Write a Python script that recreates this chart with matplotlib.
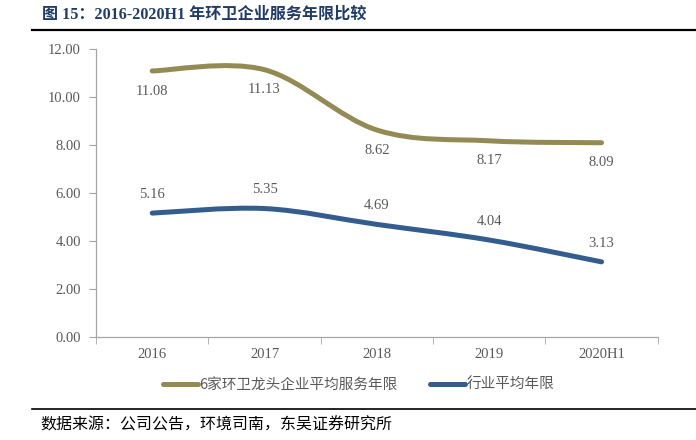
import matplotlib
matplotlib.use('Agg')
import matplotlib.pyplot as plt
from matplotlib.path import Path
from matplotlib.patches import PathPatch
from matplotlib.lines import Line2D

years = ['2016', '2017', '2018', '2019', '2020H1']
top6 = [11.08, 11.13, 8.62, 8.17, 8.09]
industry = [5.16, 5.35, 4.69, 4.04, 3.13]

title = '图 15：2016-2020H1 年环卫企业服务年限比较'
source = '数据来源：公司公告，环境司南，东吴证券研究所'
names = ['6家环卫龙头企业平均服务年限', '行业平均年限']

olive = '#948A54'
blue = '#335C8F'
grey = '#595959'
serif = ['Liberation Serif', 'Noto Sans CJK SC']
cjk = ['Noto Sans CJK SC', 'DejaVu Sans']


def smooth_path(xs, ys):
    # excel style smoothed line: cubic bezier through every point
    pts = list(zip(xs, ys))
    verts = [pts[0]]
    codes = [Path.MOVETO]
    n = len(pts)
    for i in range(n - 1):
        p0 = pts[max(i - 1, 0)]
        p1 = pts[i]
        p2 = pts[i + 1]
        p3 = pts[min(i + 2, n - 1)]
        c1 = (p1[0] + (p2[0] - p0[0]) / 6, p1[1] + (p2[1] - p0[1]) / 6)
        c2 = (p2[0] - (p3[0] - p1[0]) / 6, p2[1] - (p3[1] - p1[1]) / 6)
        verts += [c1, c2, p2]
        codes += [Path.CURVE4] * 3
    return Path(verts, codes)


fig = plt.figure(figsize=(6.96, 4.4), dpi=100)
ax = fig.add_axes([0.138, 0.234, 0.807, 0.655])

x = list(range(len(years)))
for vals, col, dy in [(top6, olive, -14.5), (industry, blue, 13.5)]:
    ax.add_patch(PathPatch(smooth_path(x, vals), facecolor='none',
                           edgecolor=col, lw=3.6, capstyle='round'))
    for xi, v in zip(x, vals):
        ax.annotate('%.2f' % v, (xi, v), xytext=(0, dy), textcoords='offset points',
                    ha='center', va='center', fontsize=10.5, color=grey,
                    family='Liberation Serif')

ax.set_xlim(-0.5, len(years) - 0.5)
ax.set_ylim(0, 12)
ax.set_yticks([0, 2, 4, 6, 8, 10, 12])
ax.set_yticklabels(['%.2f' % t for t in ax.get_yticks()])
ax.set_xticks(x)
ax.set_xticklabels(years)
ax.set_xticks([i - 0.5 for i in range(len(years) + 1)], minor=True)
ax.tick_params(axis='x', which='major', length=0, pad=8)
ax.tick_params(axis='x', which='minor', length=5, color='#A6A6A6')
ax.tick_params(axis='y', length=5, color='#A6A6A6', pad=6)
for lab in ax.get_xticklabels() + ax.get_yticklabels():
    lab.set_family('Liberation Serif')
    lab.set_fontsize(10.5)
    lab.set_color(grey)
for s in ['top', 'right']:
    ax.spines[s].set_visible(False)
for s in ['left', 'bottom']:
    ax.spines[s].set_color('#A6A6A6')
    ax.spines[s].set_linewidth(0.9)

handles = [Line2D([], [], color=olive, lw=3.6, solid_capstyle='round'),
           Line2D([], [], color=blue, lw=3.6, solid_capstyle='round')]
leg = fig.legend(handles, names, ncol=2, loc='center', bbox_to_anchor=(0.515, 1 - 385 / 440),
                 frameon=False, handlelength=2.4, handletextpad=0.1, columnspacing=2.2,
                 prop={'family': cjk, 'size': 10.5})
for t in leg.get_texts():
    t.set_color(grey)

fig.text(42 / 696, 1 - 15 / 440, title, fontsize=11.6, fontweight='bold', color='#1F3B66',
         family=serif, va='center', ha='left')
fig.add_artist(Line2D([32 / 696, 1], [1 - 30.5 / 440] * 2, color='black', lw=1.6))
fig.add_artist(Line2D([32 / 696, 1], [1 - 409 / 440] * 2, color='black', lw=1.2))
fig.text(40 / 696, 1 - 425 / 440, source, fontsize=11.5, color='black', family=cjk,
         va='center', ha='left')

fig.savefig('out.png', dpi=100)
